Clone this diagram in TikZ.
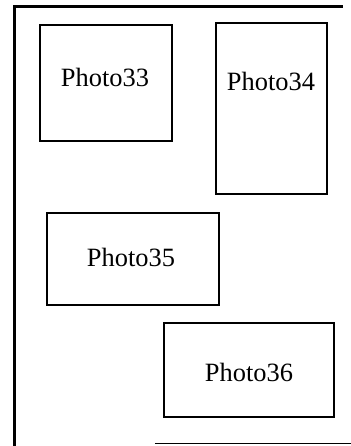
\documentclass[tikz,border=0pt]{standalone}
\usepackage{fontspec}
\setmainfont{Liberation Serif}
\usepackage{tikz}

\tikzset{
    frame/.style={line width=1.5pt},
    photobox/.style={line width=1.3pt},
    label/.style={font=\fontsize{13.2}{15}\selectfont, inner sep=0pt}
}

\begin{document}
\begin{tikzpicture}[x=0.5pt,y=-0.5pt]
\useasboundingbox (0,0) rectangle (351,446);
% page frame
\draw[frame] (15,446) -- (15,6) -- (343,6);
\draw[line width=0.5pt] (155,443) -- (351,443);
% photos
\draw[photobox] (40,25) rectangle (172,141);
\node[label] (p33) at (105,77) {Photo33};
\draw[photobox] (216,23) rectangle (327,194);
\node[label] (p34) at (271,81) {Photo34};
\draw[photobox] (47,213) rectangle (219,305);
\node[label] (p35) at (131,257) {Photo35};
\draw[photobox] (164,323) rectangle (334,417);
\node[label] (p36) at (249,372) {Photo36};
\end{tikzpicture}
\end{document}
